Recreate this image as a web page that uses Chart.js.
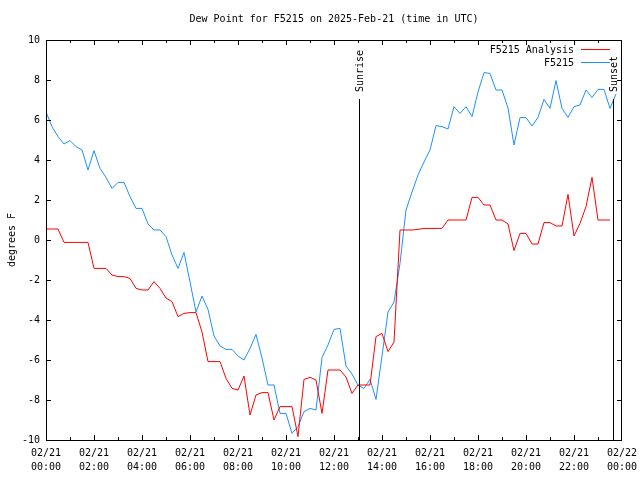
<!DOCTYPE html>
<html>
<head>
    <title>Dew Point for F5215</title>
    <script src="https://cdn.jsdelivr.net/npm/chart.js"></script>
    <style>
        body { margin: 0; background: #fff; }
        #wrap { width: 640px; height: 480px; }
    </style>
</head>
<body>
    <div id="wrap"><canvas id="dewPlot" width="640" height="480"></canvas></div>

    <script>
        // 15 minute sample times (UTC)
        const sampleTimes = ('00:00 00:15 00:30 00:45 01:00 01:15 01:30 01:45 02:00 02:15 02:30 02:45 ' +
            '03:00 03:15 03:30 03:45 04:00 04:15 04:30 04:45 05:00 05:15 05:30 05:45 ' +
            '06:00 06:15 06:30 06:45 07:00 07:15 07:30 07:45 08:00 08:15 08:30 08:45 ' +
            '09:00 09:15 09:30 09:45 10:00 10:15 10:30 10:45 11:00 11:15 11:30 11:45 ' +
            '12:00 12:15 12:30 12:45 13:00 13:15 13:30 13:45 14:00 14:15 14:30 14:45 ' +
            '15:00 15:15 15:30 15:45 16:00 16:15 16:30 16:45 17:00 17:15 17:30 17:45 ' +
            '18:00 18:15 18:30 18:45 19:00 19:15 19:30 19:45 20:00 20:15 20:30 20:45 ' +
            '21:00 21:15 21:30 21:45 22:00 22:15 22:30 22:45 23:00 23:15 23:30 23:45').split(' ');

        const analysisDew = [
            0.55, 0.55, 0.55, -0.12, -0.12, -0.12, -0.12, -0.12,
            -1.42, -1.42, -1.42, -1.75, -1.83, -1.83, -1.92, -2.42,
            -2.5, -2.5, -2.08, -2.42, -2.9, -3.08, -3.83, -3.67,
            -3.63, -3.63, -4.6, -6.08, -6.08, -6.08, -6.92, -7.42,
            -7.5, -6.8, -8.75, -7.75, -7.63, -7.63, -9.0, -8.33,
            -8.33, -8.33, -9.83, -6.97, -6.87, -7.0, -8.67, -6.5,
            -6.5, -6.5, -6.85, -7.67, -7.25, -7.25, -7.25, -4.83,
            -4.67, -5.58, -5.1, 0.5, 0.5, 0.5, 0.53, 0.58,
            0.58, 0.58, 0.58, 1.0, 1.0, 1.0, 1.0, 2.13,
            2.13, 1.75, 1.75, 1.0, 1.0, 0.8, -0.53, 0.33,
            0.33, -0.2, -0.2, 0.87, 0.87, 0.7, 0.7, 2.28,
            0.2, 0.83, 1.67, 3.13, 1.0, 1.0, 1.0
        ];

        const stationDew = [
            6.4, 5.67, 5.17, 4.8, 4.97, 4.67, 4.5, 3.5,
            4.47, 3.58, 3.13, 2.58, 2.88, 2.88, 2.17, 1.58,
            1.58, 0.8, 0.5, 0.5, 0.17, -0.75, -1.42, -0.62,
            -2.1, -3.6, -2.8, -3.47, -4.8, -5.3, -5.47, -5.47,
            -5.8, -6.0, -5.42, -4.72, -5.9, -7.25, -7.25, -8.67,
            -8.67, -9.67, -9.33, -8.58, -8.42, -8.5, -5.87, -5.25,
            -4.47, -4.42, -6.3, -6.7, -7.25, -7.42, -6.97, -7.97,
            -5.8, -3.6, -3.1, -1.17, 1.5, 2.4, 3.25, 3.9,
            4.5, 5.72, 5.67, 5.55, 6.67, 6.33, 6.67, 6.17,
            7.4, 8.37, 8.33, 7.5, 7.5, 6.6, 4.75, 6.12,
            6.12, 5.7, 6.13, 7.03, 6.58, 7.97, 6.58, 6.13,
            6.67, 6.75, 7.5, 7.12, 7.53, 7.53, 6.58, 7.3
        ];

        const tickDates = ['02/21', '02/21', '02/21', '02/21', '02/21', '02/21', '02/21',
                           '02/21', '02/21', '02/21', '02/21', '02/21', '02/22'];
        const tickTimes = ['00:00', '02:00', '04:00', '06:00', '08:00', '10:00', '12:00',
                           '14:00', '16:00', '18:00', '20:00', '22:00', '00:00'];

        const eventNames = ['Sunrise', 'Sunset'];
        const eventTimes = ['13:03', '23:38'];

        const FONT = 'DejaVu Sans Mono';

        function toHours(t) {
            const p = t.split(':');
            return parseInt(p[0]) + parseInt(p[1]) / 60;
        }

        // ticks inside the box, sunrise / sunset markers, legend
        const framePlugin = {
            id: 'frame',
            afterDatasetsDraw(chart) {
                const ctx = chart.ctx;
                const a = chart.chartArea;
                const xs = chart.scales.x;
                const ys = chart.scales.y;
                ctx.save();
                ctx.strokeStyle = '#000';
                ctx.lineWidth = 1;

                ctx.beginPath();
                for (let h = 1; h < 24; h++) {
                    const px = Math.round(xs.getPixelForValue(h)) + 0.5;
                    const len = h % 2 === 0 ? 5 : 3;
                    ctx.moveTo(px, a.bottom); ctx.lineTo(px, a.bottom - len);
                    ctx.moveTo(px, a.top); ctx.lineTo(px, a.top + len);
                }
                for (let v = -8; v <= 8; v += 2) {
                    const py = Math.round(ys.getPixelForValue(v)) + 0.5;
                    ctx.moveTo(a.left, py); ctx.lineTo(a.left + 5, py);
                    ctx.moveTo(a.right, py); ctx.lineTo(a.right - 5, py);
                }
                ctx.stroke();

                ctx.strokeRect(Math.round(a.left) + 0.5, Math.round(a.top) + 0.5,
                               Math.round(a.right - a.left) - 1, Math.round(a.bottom - a.top));

                // sunrise / sunset
                ctx.font = '10px "' + FONT + '"';
                ctx.fillStyle = '#000';
                const lineTop = a.top + 59;
                eventNames.forEach((name, i) => {
                    const px = Math.round(xs.getPixelForValue(toHours(eventTimes[i]))) + 0.5;
                    ctx.beginPath();
                    ctx.moveTo(px, a.bottom);
                    ctx.lineTo(px, lineTop);
                    ctx.stroke();
                    ctx.save();
                    ctx.translate(px + 1, lineTop - 7);
                    ctx.rotate(-Math.PI / 2);
                    ctx.textAlign = 'left';
                    ctx.textBaseline = 'middle';
                    ctx.fillText(name, 0, 0);
                    ctx.restore();
                });

                // legend
                ctx.textAlign = 'right';
                ctx.textBaseline = 'middle';
                chart.data.datasets.forEach((ds, i) => {
                    const y = a.top + 10 + i * 13;
                    ctx.fillStyle = '#000';
                    ctx.fillText(ds.label, a.right - 48, y);
                    ctx.strokeStyle = ds.borderColor;
                    ctx.beginPath();
                    ctx.moveTo(a.right - 41, Math.round(y) - 0.5);
                    ctx.lineTo(a.right - 12, Math.round(y) - 0.5);
                    ctx.stroke();
                });
                ctx.restore();
            }
        };

        const ctxDew = document.getElementById('dewPlot').getContext('2d');

        new Chart(ctxDew, {
            type: 'line',
            data: {
                datasets: [{
                    label: 'F5215 Analysis',
                    data: analysisDew.map((v, i) => ({ x: toHours(sampleTimes[i]), y: v })),
                    borderColor: '#ff0000',
                    borderWidth: 1,
                    pointRadius: 0,
                    tension: 0
                },
                {
                    label: 'F5215',
                    data: stationDew.map((v, i) => ({ x: toHours(sampleTimes[i]), y: v })),
                    borderColor: '#1e90ff',
                    borderWidth: 1,
                    pointRadius: 0,
                    tension: 0
                }]
            },
            options: {
                responsive: false,
                animation: false,
                layout: { padding: { left: 0, right: 18, top: 0, bottom: 0 } },
                scales: {
                    x: {
                        type: 'linear',
                        min: 0,
                        max: 24,
                        grid: { display: false, drawTicks: false },
                        border: { display: false },
                        ticks: {
                            stepSize: 2,
                            autoSkip: false,
                            maxRotation: 0,
                            padding: 6,
                            color: '#000',
                            font: { family: FONT, size: 10, lineHeight: 1.4 },
                            callback: (v) => {
                                const i = Math.round(v / 2);
                                return [tickDates[i], tickTimes[i]];
                            }
                        },
                        afterFit: (s) => {
                            s.height = 40;
                            s.paddingLeft = 0;
                            s.paddingRight = 0;
                        }
                    },
                    y: {
                        min: -10,
                        max: 10,
                        grid: { display: false, drawTicks: false },
                        border: { display: false },
                        ticks: {
                            stepSize: 2,
                            padding: 6,
                            color: '#000',
                            font: { family: FONT, size: 10 }
                        },
                        title: {
                            display: true,
                            text: 'degrees F',
                            color: '#000',
                            padding: { top: 6, bottom: 0 },
                            font: { family: FONT, size: 10 }
                        },
                        afterFit: (s) => {
                            s.width = 46;
                            s.paddingTop = 0;
                            s.paddingBottom = 0;
                        }
                    }
                },
                plugins: {
                    legend: { display: false },
                    tooltip: { enabled: false },
                    title: {
                        display: true,
                        fullSize: false,
                        text: 'Dew Point for F5215 on 2025-Feb-21 (time in UTC)',
                        color: '#000',
                        padding: { top: 13, bottom: 15 },
                        font: { family: FONT, size: 10, weight: 'normal' }
                    }
                }
            },
            plugins: [framePlugin]
        });
    </script>
</body>
</html>
